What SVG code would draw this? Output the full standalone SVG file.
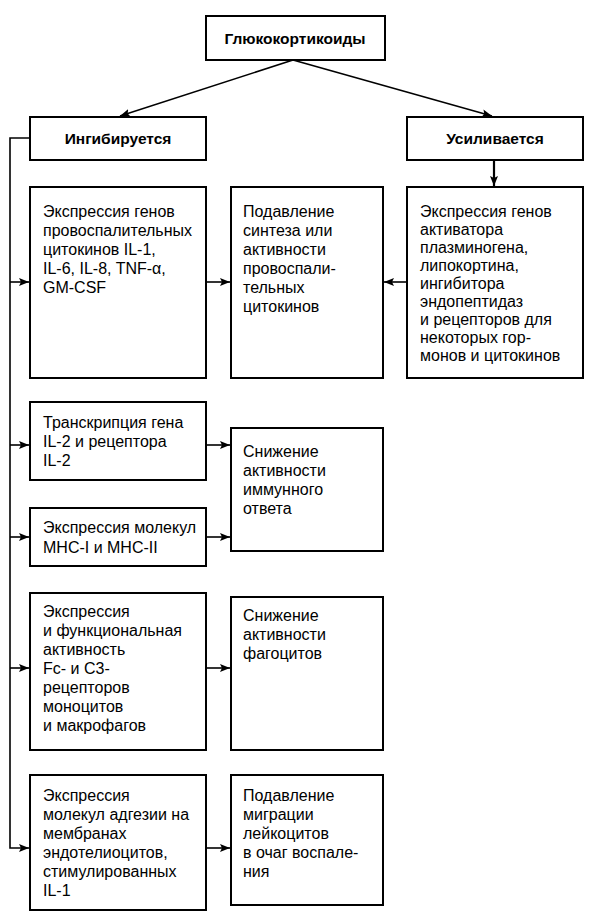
<svg xmlns="http://www.w3.org/2000/svg" width="594" height="916" viewBox="0 0 594 916">
<style>
.box{fill:#fff;stroke:#000;stroke-width:2}
.t{font-family:"Liberation Sans",Arial,sans-serif;font-size:16px;fill:#000}
.b{font-family:"Liberation Sans",Arial,sans-serif;font-size:15.5px;font-weight:bold;fill:#000;text-anchor:middle}
.c{fill:none;stroke:#000;stroke-width:1.6}
</style>
<defs>
<marker id="ah" viewBox="0 0 10 8" refX="10" refY="4" markerWidth="10" markerHeight="8" markerUnits="userSpaceOnUse" orient="auto">
<path d="M0,0 L10,4 L0,8 L2,4 Z" fill="#000"/>
</marker>
</defs>
<rect width="594" height="916" fill="#fff"/>
<g id="glucocorticoids">
<rect class="box" x="206" y="16" width="179" height="44"/>
<text class="b" x="295" y="44">Глюкокортикоиды</text>
</g>
<g id="inhibited">
<rect class="box" x="30" y="117" width="176" height="43"/>
<text class="b" x="118" y="144">Ингибируется</text>
</g>
<g id="enhanced">
<rect class="box" x="407" y="117" width="176" height="43"/>
<text class="b" x="495" y="144">Усиливается</text>
</g>
<g id="cytokine-genes">
<rect class="box" x="30" y="187" width="176" height="191"/>
<text class="t" x="43" y="217"><tspan x="43">Экспрессия генов</tspan><tspan x="43" dy="19">провоспалительных</tspan><tspan x="43" dy="19">цитокинов IL-1,</tspan><tspan x="43" dy="19">IL-6, IL-8, TNF-α,</tspan><tspan x="43" dy="19">GM-CSF</tspan></text>
</g>
<g id="suppress-cytokines">
<rect class="box" x="231" y="187" width="152" height="191"/>
<text class="t" x="243" y="217"><tspan x="243">Подавление</tspan><tspan x="243" dy="19">синтеза или</tspan><tspan x="243" dy="19">активности</tspan><tspan x="243" dy="19">провоспали-</tspan><tspan x="243" dy="19">тельных</tspan><tspan x="243" dy="19">цитокинов</tspan></text>
</g>
<g id="enhanced-genes">
<rect class="box" x="407" y="187" width="176" height="191"/>
<text class="t" x="420" y="217"><tspan x="420">Экспрессия генов</tspan><tspan x="420" dy="18">активатора</tspan><tspan x="420" dy="18">плазминогена,</tspan><tspan x="420" dy="18">липокортина,</tspan><tspan x="420" dy="18">ингибитора</tspan><tspan x="420" dy="18">эндопептидаз</tspan><tspan x="420" dy="18">и рецепторов для</tspan><tspan x="420" dy="18">некоторых гор-</tspan><tspan x="420" dy="18">монов и цитокинов</tspan></text>
</g>
<g id="il2">
<rect class="box" x="30" y="402" width="176" height="78"/>
<text class="t" x="43" y="428"><tspan x="43">Транскрипция гена</tspan><tspan x="43" dy="19">IL-2 и рецептора</tspan><tspan x="43" dy="19">IL-2</tspan></text>
</g>
<g id="mhc">
<rect class="box" x="30" y="508" width="176" height="58"/>
<text class="t" x="43" y="533"><tspan x="43">Экспрессия молекул</tspan><tspan x="43" dy="20">MHC-I и MHC-II</tspan></text>
</g>
<g id="immune">
<rect class="box" x="231" y="428" width="152" height="123"/>
<text class="t" x="243" y="457"><tspan x="243">Снижение</tspan><tspan x="243" dy="19">активности</tspan><tspan x="243" dy="19">иммунного</tspan><tspan x="243" dy="19">ответа</tspan></text>
</g>
<g id="fc-c3">
<rect class="box" x="30" y="593" width="176" height="157"/>
<text class="t" x="43" y="617"><tspan x="43">Экспрессия</tspan><tspan x="43" dy="19">и функциональная</tspan><tspan x="43" dy="19">активность</tspan><tspan x="43" dy="19">Fc- и C3-</tspan><tspan x="43" dy="19">рецепторов</tspan><tspan x="43" dy="19">моноцитов</tspan><tspan x="43" dy="19">и макрофагов</tspan></text>
</g>
<g id="phagocytes">
<rect class="box" x="231" y="597" width="152" height="153"/>
<text class="t" x="243" y="621"><tspan x="243">Снижение</tspan><tspan x="243" dy="19">активности</tspan><tspan x="243" dy="19">фагоцитов</tspan></text>
</g>
<g id="adhesion">
<rect class="box" x="30" y="775" width="176" height="135"/>
<text class="t" x="43" y="801"><tspan x="43">Экспрессия</tspan><tspan x="43" dy="19">молекул адгезии на</tspan><tspan x="43" dy="19">мембранах</tspan><tspan x="43" dy="19">эндотелиоцитов,</tspan><tspan x="43" dy="19">стимулированных</tspan><tspan x="43" dy="19">IL-1</tspan></text>
</g>
<g id="migration">
<rect class="box" x="231" y="775" width="152" height="130"/>
<text class="t" x="243" y="801"><tspan x="243">Подавление</tspan><tspan x="243" dy="19">миграции</tspan><tspan x="243" dy="19">лейкоцитов</tspan><tspan x="243" dy="19">в очаг воспале-</tspan><tspan x="243" dy="19">ния</tspan></text>
</g>
<g id="connectors">
<path class="c" d="M293,60 L120,116" marker-end="url(#ah)"/>
<path class="c" d="M293,60 L492,116" marker-end="url(#ah)"/>
<path class="c" d="M494,161 L494,186" marker-end="url(#ah)" style="stroke-width:2.2"/>
<path class="c" d="M29,138 L10,138 L10,848 L29,848" marker-end="url(#ah)"/>
<path class="c" d="M10,282 L29,282" marker-end="url(#ah)"/>
<path class="c" d="M10,445 L29,445" marker-end="url(#ah)"/>
<path class="c" d="M10,537 L29,537" marker-end="url(#ah)"/>
<path class="c" d="M10,668 L29,668" marker-end="url(#ah)"/>
<path class="c" d="M207,282 L230,282" marker-end="url(#ah)"/>
<path class="c" d="M406,282 L384,282" marker-end="url(#ah)"/>
<path class="c" d="M207,445 L230,445" marker-end="url(#ah)"/>
<path class="c" d="M207,537 L230,537" marker-end="url(#ah)"/>
<path class="c" d="M207,668 L230,668" marker-end="url(#ah)"/>
<path class="c" d="M207,848 L230,848" marker-end="url(#ah)"/>
</g>
</svg>
